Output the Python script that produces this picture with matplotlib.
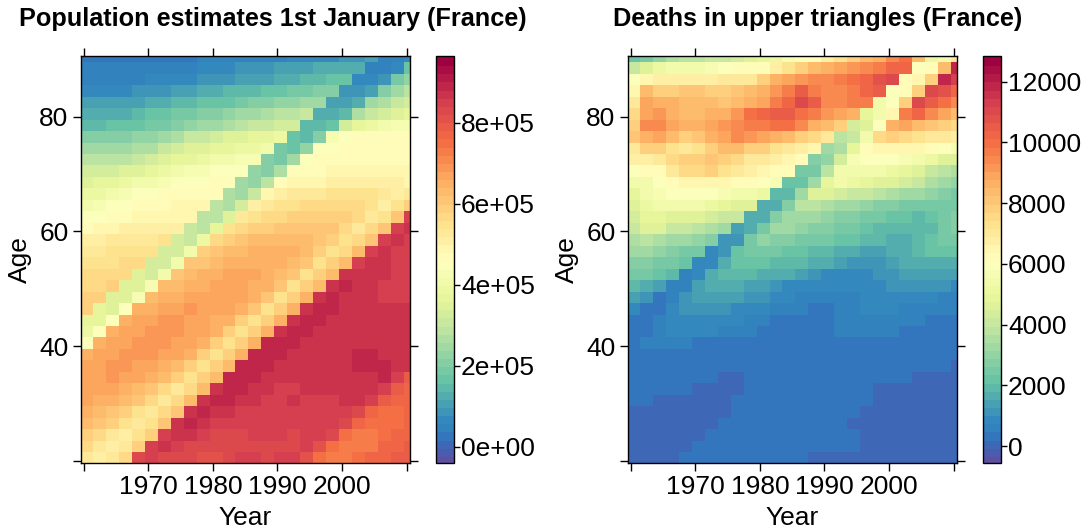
import numpy as np
import matplotlib
matplotlib.use("Agg")
import matplotlib.pyplot as plt
from matplotlib.colors import LinearSegmentedColormap

plt.rcParams['font.family'] = ['Liberation Sans', 'DejaVu Sans']

# cells are two years wide and two ages high
years = list(range(1960, 2011, 2))
ages = list(range(90, 19, -2))

# population, in units of 10000
pop_rows = [
    [3, 3, 3, 3, 4, 4, 4, 4, 4, 5, 5, 5, 5, 5, 6, 6, 7, 7, 8, 8, 9, 9, 12, 6, 6, 8],
    [5, 5, 5, 5, 5, 5, 5, 6, 6, 7, 7, 8, 9, 9, 10, 11, 12, 12, 13, 13, 14, 14, 6, 6, 8, 17],
    [6, 6, 6, 6, 6, 7, 7, 8, 8, 9, 9, 10, 11, 11, 12, 13, 14, 15, 16, 17, 17, 8, 8, 10, 20, 23],
    [8, 8, 8, 8, 9, 10, 10, 11, 12, 13, 14, 15, 15, 16, 17, 18, 19, 20, 21, 21, 10, 9, 12, 22, 26, 29],
    [11, 11, 11, 11, 12, 13, 14, 15, 16, 17, 18, 18, 20, 21, 22, 23, 24, 25, 26, 12, 11, 14, 25, 28, 31, 34],
    [13, 13, 14, 14, 15, 17, 18, 19, 20, 21, 22, 23, 25, 26, 27, 29, 30, 31, 14, 13, 16, 28, 31, 34, 36, 38],
    [16, 16, 17, 17, 18, 19, 20, 22, 24, 25, 26, 28, 29, 31, 32, 33, 34, 16, 15, 18, 33, 37, 40, 42, 43, 44],
    [21, 21, 21, 22, 23, 24, 26, 28, 31, 32, 34, 35, 36, 37, 38, 39, 18, 16, 21, 44, 46, 47, 47, 47, 47, 47],
    [26, 26, 26, 26, 27, 28, 31, 33, 35, 36, 37, 38, 39, 40, 41, 20, 18, 23, 45, 46, 47, 48, 48, 48, 48, 48],
    [29, 29, 30, 30, 31, 33, 35, 37, 38, 40, 41, 42, 43, 44, 22, 20, 25, 46, 47, 47, 47, 48, 48, 48, 48, 48],
    [33, 33, 34, 35, 36, 38, 40, 41, 43, 44, 45, 45, 46, 24, 22, 27, 47, 48, 48, 49, 49, 50, 50, 49, 49, 49],
    [36, 37, 38, 39, 41, 42, 44, 45, 46, 46, 47, 47, 26, 24, 29, 48, 49, 50, 50, 51, 51, 51, 52, 51, 51, 50],
    [39, 40, 42, 44, 45, 46, 47, 47, 48, 48, 48, 28, 26, 32, 50, 52, 53, 54, 54, 55, 55, 55, 55, 54, 51, 53],
    [42, 43, 45, 46, 47, 48, 48, 49, 49, 49, 29, 28, 34, 52, 54, 55, 56, 57, 57, 58, 58, 57, 55, 52, 55, 60],
    [45, 46, 47, 48, 49, 50, 50, 50, 50, 30, 29, 35, 54, 56, 57, 58, 59, 60, 60, 60, 59, 57, 53, 56, 61, 85],
    [48, 49, 50, 51, 52, 52, 52, 52, 32, 30, 38, 56, 58, 59, 60, 61, 62, 62, 62, 61, 58, 54, 57, 62, 86, 87],
    [52, 52, 53, 53, 54, 54, 55, 33, 32, 40, 58, 60, 62, 63, 64, 64, 64, 64, 62, 59, 55, 58, 62, 86, 87, 86],
    [54, 54, 55, 55, 56, 56, 34, 33, 41, 60, 61, 63, 64, 65, 65, 65, 65, 63, 60, 55, 58, 63, 86, 87, 86, 86],
    [56, 56, 56, 57, 57, 34, 33, 42, 61, 62, 64, 65, 66, 66, 66, 65, 64, 61, 56, 59, 63, 86, 88, 87, 86, 86],
    [57, 57, 58, 58, 35, 34, 42, 62, 63, 65, 66, 67, 67, 67, 66, 64, 61, 56, 59, 64, 87, 88, 87, 87, 86, 86],
    [58, 58, 59, 36, 35, 43, 63, 64, 66, 66, 67, 67, 67, 66, 65, 61, 56, 59, 64, 88, 89, 88, 87, 86, 86, 86],
    [59, 60, 36, 35, 44, 64, 65, 66, 67, 68, 68, 67, 67, 65, 61, 56, 59, 65, 88, 89, 88, 87, 87, 86, 86, 86],
    [60, 37, 36, 45, 65, 66, 67, 68, 69, 68, 67, 67, 65, 61, 56, 59, 65, 88, 90, 89, 87, 87, 87, 87, 87, 87],
    [38, 37, 45, 66, 67, 68, 69, 69, 68, 67, 66, 65, 60, 56, 59, 65, 88, 90, 89, 87, 87, 87, 88, 88, 88, 87],
    [39, 46, 66, 67, 68, 69, 69, 69, 68, 67, 65, 60, 56, 59, 65, 88, 90, 89, 88, 87, 87, 87, 88, 88, 88, 87],
    [46, 66, 67, 68, 69, 69, 69, 68, 67, 65, 60, 55, 59, 65, 89, 90, 89, 88, 87, 87, 87, 88, 88, 88, 88, 87],
    [65, 67, 68, 69, 69, 69, 68, 67, 65, 60, 55, 59, 65, 89, 90, 89, 88, 87, 87, 87, 88, 89, 89, 88, 88, 87],
    [67, 68, 69, 69, 68, 67, 65, 63, 59, 55, 59, 64, 89, 90, 89, 88, 87, 87, 87, 88, 88, 89, 89, 89, 88, 87],
    [67, 68, 69, 68, 67, 65, 63, 59, 55, 59, 64, 89, 90, 89, 88, 87, 87, 87, 88, 88, 88, 88, 88, 89, 86, 80],
    [67, 68, 67, 66, 64, 62, 58, 54, 58, 63, 88, 90, 89, 88, 87, 86, 86, 87, 87, 87, 87, 87, 88, 85, 80, 78],
    [67, 66, 65, 63, 61, 57, 54, 58, 63, 88, 89, 89, 88, 87, 86, 86, 87, 86, 86, 86, 87, 88, 85, 79, 77, 77],
    [66, 64, 62, 60, 56, 53, 57, 62, 88, 89, 88, 87, 86, 86, 86, 86, 86, 85, 86, 86, 86, 84, 78, 76, 76, 77],
    [63, 61, 59, 55, 53, 56, 61, 87, 89, 88, 86, 85, 85, 85, 85, 85, 85, 85, 85, 85, 83, 77, 75, 75, 76, 78],
    [60, 58, 54, 52, 55, 60, 86, 88, 87, 85, 84, 84, 84, 85, 85, 85, 84, 85, 85, 83, 76, 74, 74, 75, 78, 78],
    [57, 54, 52, 54, 59, 85, 87, 85, 84, 84, 83, 83, 84, 84, 84, 84, 84, 85, 82, 75, 73, 73, 74, 77, 78, 79],
    [54, 52, 54, 58, 84, 85, 84, 83, 83, 82, 82, 83, 85, 86, 84, 85, 86, 81, 75, 73, 74, 75, 77, 77, 79, 79],
]

# deaths, in units of 100
death_rows = [
    [22, 26, 30, 36, 38, 38, 40, 42, 44, 46, 50, 53, 57, 60, 64, 68, 74, 80, 84, 88, 95, 100, 85, 52, 56, 72],
    [42, 48, 53, 54, 55, 56, 58, 60, 62, 63, 64, 68, 74, 78, 84, 88, 90, 92, 95, 97, 102, 104, 60, 64, 84, 118],
    [60, 66, 68, 68, 68, 68, 68, 70, 70, 72, 78, 86, 90, 92, 94, 96, 98, 100, 103, 108, 110, 62, 66, 80, 118, 114],
    [66, 85, 80, 80, 82, 82, 80, 80, 82, 84, 86, 93, 98, 105, 98, 95, 96, 98, 102, 107, 60, 63, 78, 110, 108, 104],
    [70, 90, 88, 88, 85, 84, 84, 82, 85, 88, 90, 98, 104, 112, 105, 96, 96, 98, 98, 56, 60, 80, 112, 106, 100, 96],
    [75, 90, 92, 86, 84, 84, 86, 88, 92, 100, 102, 106, 106, 100, 98, 92, 90, 86, 50, 54, 66, 98, 102, 96, 90, 85],
    [80, 95, 94, 90, 86, 86, 90, 92, 94, 97, 98, 100, 100, 96, 88, 85, 78, 44, 46, 60, 88, 90, 85, 82, 78, 76],
    [82, 88, 90, 84, 80, 82, 88, 90, 94, 92, 90, 88, 85, 80, 75, 70, 38, 40, 55, 76, 78, 76, 74, 72, 70, 68],
    [72, 78, 78, 74, 72, 74, 80, 84, 84, 80, 78, 74, 72, 68, 66, 33, 35, 50, 64, 65, 66, 66, 65, 62, 60, 58],
    [68, 68, 70, 76, 80, 80, 82, 80, 76, 72, 70, 68, 66, 64, 29, 30, 45, 58, 60, 60, 60, 58, 56, 52, 48, 46],
    [60, 62, 64, 72, 76, 76, 78, 74, 70, 68, 66, 64, 62, 25, 26, 38, 55, 56, 55, 54, 52, 50, 46, 42, 38, 36],
    [54, 56, 60, 64, 66, 66, 66, 66, 64, 62, 60, 58, 22, 22, 34, 50, 54, 52, 50, 48, 46, 44, 40, 36, 32, 30],
    [50, 54, 58, 60, 60, 60, 60, 58, 56, 54, 52, 19, 20, 32, 46, 46, 44, 42, 40, 38, 36, 34, 32, 30, 28, 26],
    [47, 52, 54, 54, 54, 54, 52, 50, 48, 46, 17, 18, 28, 38, 38, 36, 34, 32, 30, 28, 27, 26, 25, 24, 24, 26],
    [44, 50, 50, 48, 46, 46, 44, 42, 40, 16, 17, 27, 34, 34, 32, 30, 28, 27, 25, 24, 23, 22, 21, 22, 24, 27],
    [42, 46, 46, 42, 40, 38, 36, 34, 15, 16, 26, 32, 32, 30, 28, 27, 25, 24, 22, 21, 20, 19, 19, 21, 24, 28],
    [36, 38, 36, 34, 32, 30, 28, 12, 13, 24, 30, 28, 27, 26, 25, 24, 23, 22, 20, 19, 18, 18, 20, 22, 24, 25],
    [32, 32, 30, 28, 26, 24, 10, 11, 22, 26, 25, 24, 23, 22, 21, 20, 18, 16, 15, 15, 16, 18, 20, 22, 22, 22],
    [28, 28, 26, 24, 22, 8, 9, 18, 23, 23, 22, 21, 20, 19, 18, 16, 14, 13, 12, 13, 14, 16, 18, 18, 18, 18],
    [24, 24, 22, 20, 7, 8, 16, 20, 20, 19, 18, 17, 16, 14, 12, 10, 10, 10, 10, 11, 12, 14, 15, 15, 15, 15],
    [19, 18, 14, 6, 7, 14, 17, 17, 16, 15, 14, 12, 10, 9, 8, 8, 8, 8, 9, 10, 12, 12, 12, 11, 11, 10],
    [14, 12, 5, 6, 12, 15, 15, 14, 14, 12, 11, 9, 8, 7, 6, 6, 6, 7, 8, 9, 9, 9, 8, 8, 7, 7],
    [9, 4, 5, 10, 12, 12, 12, 11, 10, 9, 8, 7, 6, 6, 5, 5, 6, 7, 9, 8, 8, 7, 6, 6, 6, 6],
    [4, 4, 6, 9, 10, 10, 10, 9, 8, 7, 6, 5, 5, 5, 5, 5, 6, 7, 7, 7, 7, 6, 6, 5, 5, 5],
    [4, 5, 7, 8, 8, 8, 8, 7, 6, 6, 5, 5, 4, 4, 4, 5, 6, 6, 6, 6, 6, 5, 5, 5, 5, 4],
    [4.5, 6, 6, 6, 6, 5, 5, 5, 5, 4, 4, 4, 4, 4, 4, 4, 5, 5, 5, 5, 5, 5, 4, 4, 4, 4],
    [5, 5, 5, 5, 5, 5, 4, 4, 4, 4, 4, 4, 3, 3, 3, 4, 5, 4, 4, 4, 4, 4, 4, 3, 3, 3],
    [4, 4, 5, 4, 4, 4, 4, 3, 3, 3, 3, 3, 3, 3, 3, 3, 4, 4, 4, 4, 3, 3, 3, 3, 3, 2],
    [3, 3, 3, 3, 3, 3, 3, 2, 2, 3, 3, 3, 3, 3, 3, 3, 3, 3, 3, 3, 3, 3, 2, 2, 2, 2],
    [3, 3, 3, 3, 3, 2, 2, 2, 2, 3, 3, 3, 3, 3, 3, 3, 3, 3, 3, 2, 1.5, 1.5, 1.5, 1.5, 1.5, 1.5],
    [2.5, 2.5, 2, 2, 2, 2, 2, 2, 3, 3, 3, 3, 3, 3, 3, 3, 3, 3, 3, 1.5, 1.5, 1.5, 1.5, 1.5, 1.5, 1.5],
    [1.5, 1.5, 1.5, 1.5, 1.5, 1.5, 2, 2, 3, 3, 3, 3, 3, 2.5, 2.5, 3, 3, 2.5, 1.5, 1.5, 1.5, 1.5, 1.5, 1.5, 1.5, 1.5],
    [1.5, 1.5, 1.5, 1.5, 1.5, 2, 2, 3, 3, 3, 3, 3, 3, 2.5, 2.5, 3, 3, 2, 1.5, 1.5, 1.5, 1.5, 1.5, 1.5, 1.5, 1.5],
    [1.5, 1.5, 1.5, 1.5, 1.5, 2, 3, 3, 3, 3, 3, 3, 3, 3, 3, 2.5, 3, 2.5, 1.5, 1.5, 1.5, 1.5, 1.5, 1.5, 1.5, 1.5],
    [1.5, 1.5, 1.5, 1.5, 2, 3, 3, 3, 3, 3, 3, 3, 3, 2.5, 3, 3, 2.5, 2.5, 1.5, 1.5, 1.5, 1.5, 1.5, 1.5, 1.5, 1.5],
    [1.5, 1.5, 1.5, 1.5, 2.5, 2.5, 2.5, 2.5, 2.5, 2.5, 2.5, 2.5, 2.5, 2.5, 2, 2, 2, 1.5, 1.5, 1.5, 1.5, 1.5, 1.5, 1.5, 1.5, 1.5],
]

pop_ticks = [0, 200000, 400000, 600000, 800000]
pop_labels = ['0e+00', '2e+05', '4e+05', '6e+05', '8e+05']
death_ticks = [0, 2000, 4000, 6000, 8000, 10000, 12000]

W, H = 1085, 531
spectral = ['#5e4fa2', '#4560b0', '#3472bd', '#3180bd', '#3288bd', '#66c2a5', '#abdda4', '#e6f598', '#ffffbf',
            '#fee08b', '#fdae61', '#f46d43', '#d53e4f', '#9e0142']
anchors = [0, 0.03, 0.055, 0.075, 0.1, 0.2, 0.3, 0.4, 0.5, 0.6, 0.7, 0.8, 0.9, 1]
cmap = LinearSegmentedColormap.from_list('spec', list(zip(anchors, spectral)), N=50)

fig = plt.figure(figsize=(W / 100, H / 100), dpi=100)


def px_axes(x0, y0, x1, y1):
    return fig.add_axes([x0 / W, 1 - y1 / H, (x1 - x0) / W, (y1 - y0) / H])


def panel(x0, cx0, title, title_x, z, vmin, vmax, ticks, labels):
    ax = px_axes(x0, 56, x0 + 329, 463)
    x_edges = np.append(np.arange(1959.5, 2010, 2), 2010.5)
    y_edges = np.concatenate(([90.6], np.arange(89.5, 21, -2), [19.6]))
    m = ax.pcolormesh(x_edges, y_edges, z, cmap=cmap, vmin=vmin, vmax=vmax, linewidth=0)
    ax.set_xlim(1959.6, 2010.5)
    ax.set_ylim(19.6, 90.6)
    ax.set_xticks([1960, 1970, 1980, 1990, 2000, 2010])
    ax.set_xticklabels(['', '1970', '1980', '1990', '2000', ''])
    ax.set_yticks([20, 40, 60, 80])
    ax.set_yticklabels(['', '40', '60', '80'])
    ax.tick_params(top=True, right=True, length=6, width=1, labelsize=19, pad=3)
    ax.set_xlabel('Year', fontsize=19, labelpad=5)
    ax.set_ylabel('Age', fontsize=19, labelpad=5)
    for s in ax.spines.values():
        s.set_linewidth(1)

    cax = px_axes(cx0, 56, cx0 + 18, 463)
    cb = fig.colorbar(m, cax=cax, ticks=ticks)
    cb.set_ticklabels(labels)
    cb.solids.set_edgecolor('face')
    cb.ax.tick_params(length=4, width=1, labelsize=19, pad=1)
    cb.outline.set_linewidth(1)
    fig.text(title_x / W, 1 - 19 / H, title, fontsize=18.2, fontweight='bold', ha='center', va='center')


pop = np.array(pop_rows, dtype=float) * 10000
deaths = np.array(death_rows, dtype=float) * 100

panel(81, 436, 'Population estimates 1st January (France)', 273, pop, -40000, 965000,
      pop_ticks, pop_labels)
panel(628, 983, 'Deaths in upper triangles (France)', 818, deaths, -560, 12850,
      death_ticks, [str(t) for t in death_ticks])

fig.savefig('out.png', dpi=100)
